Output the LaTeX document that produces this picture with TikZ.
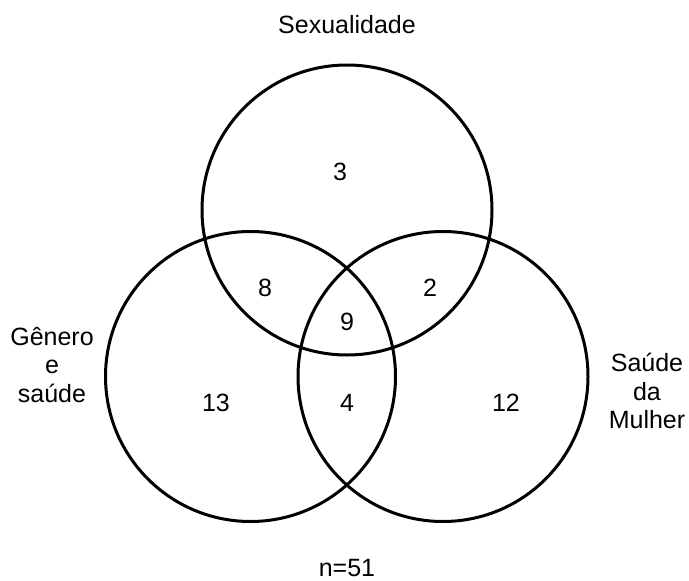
\documentclass[tikz,border=0pt]{standalone}
\usepackage{fontspec}
\setmainfont{Liberation Sans}
\begin{document}
\begin{tikzpicture}[x=1pt,y=-1pt,
  ring/.style={draw=black,line width=3pt},
  lbl/.style={font=\fontsize{25}{28.5}\selectfont,inner sep=0pt,align=center},
  num/.style={font=\fontsize{25}{28}\selectfont,inner sep=0pt}]
\useasboundingbox (0,0) rectangle (689,581);
\coordinate (cs) at (347,210);
\coordinate (cg) at (250.5,376.5);
\coordinate (cm) at (443,376.5);
\draw[ring] (cs) circle (145);
\draw[ring] (cg) circle (145);
\draw[ring] (cm) circle (145);
\node[lbl] (tsex) at (347,25) {Sexualidade};
\node[lbl] (tgen) at (52,365) {Gênero\\e\\saúde};
\node[lbl] (tsm) at (647,391) {Saúde\\da\\Mulher};
\node[num] (n3) at (340,172) {3};
\node[num] (n8) at (265,288) {8};
\node[num] (n9) at (347,322) {9};
\node[num] (n2) at (430,288) {2};
\node[num] (n13) at (216,403) {13};
\node[num] (n4) at (347,403) {4};
\node[num] (n12) at (506,403) {12};
\node[num] (nn) at (347,568) {n=51};
\end{tikzpicture}
\end{document}
